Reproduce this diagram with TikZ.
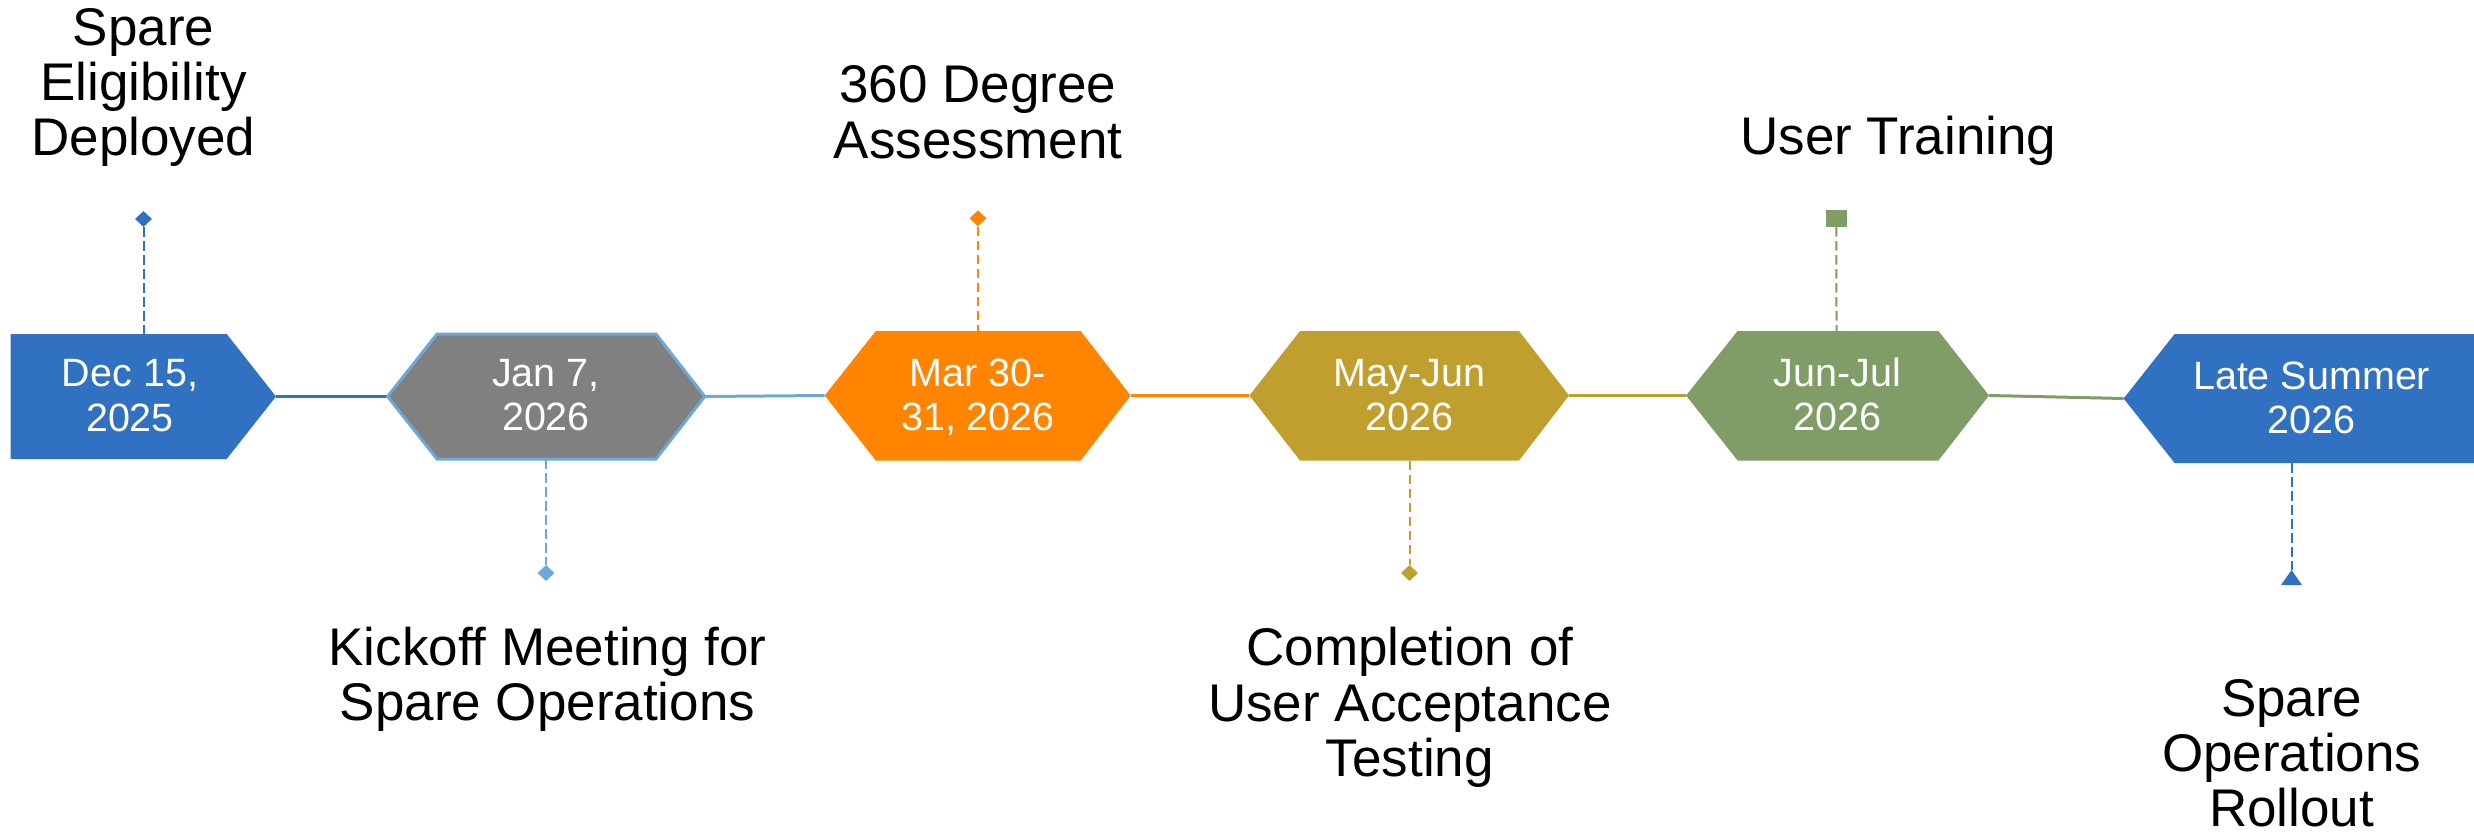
\documentclass[tikz,border=0pt]{standalone}
\usepackage{fontspec}
\setmainfont{Liberation Sans}
\usetikzlibrary{shapes.geometric}
\definecolor{cblue}{HTML}{3171C1}
\definecolor{clblue}{HTML}{6CA9D9}
\definecolor{cgray}{HTML}{808080}
\definecolor{corange}{HTML}{FF8400}
\definecolor{colive}{HTML}{C09F2E}
\definecolor{cgreen}{HTML}{809D67}
\tikzset{
  conn/.style={line width=3pt},
  dline/.style={line width=2pt, dash pattern=on 9.5pt off 4.5pt},
  lbl/.style={anchor=base, inner sep=0pt, font=\fontsize{53}{55.5}\selectfont, text=black},
  dte/.style={anchor=base, inner sep=0pt, font=\fontsize{39.5}{44.5}\selectfont, text=white},
  dmark/.style={diamond, inner sep=0pt, minimum width=17pt, minimum height=16pt},
}
\begin{document}
\begin{tikzpicture}[x=1pt, y=-1pt]
\useasboundingbox (0,0) rectangle (2474,832);
% ---- shape anchor coordinates
\coordinate (decR) at (276,396.5);
\coordinate (decT) at (143.5,334);
\coordinate (janL) at (387.6,396.5);
\coordinate (janR) at (704.7,396.5);
\coordinate (janB) at (546,459);
\coordinate (marL) at (824.7,395.5);
\coordinate (marR) at (1130.6,395.5);
\coordinate (marT) at (978,331);
\coordinate (mayL) at (1249.4,395.5);
\coordinate (mayR) at (1569,395.5);
\coordinate (mayB) at (1409.5,460.5);
\coordinate (junL) at (1686,395.5);
\coordinate (junR) at (1989,395.5);
\coordinate (junT) at (1836.5,331);
\coordinate (lateL) at (2123.6,398.5);
\coordinate (lateB) at (2291.5,463);
% ---- connectors
\draw[conn, cblue] (decR) -- (janL);
\draw[conn, clblue] (janR) -- (marL);
\draw[conn, corange] (marR) -- (mayL);
\draw[conn, colive] (mayR) -- (junL);
\draw[conn, cgreen] (junR) -- (lateL);
% ---- shapes
\fill[cblue] (10.7,334) -- (226.7,334) -- (decR) -- (226.7,459) -- (10.7,459) -- cycle;
\filldraw[fill=cgray, draw=clblue, line width=3pt, line join=miter] (janL) -- (437,334) -- (656,334) -- (janR) -- (656,459) -- (437,459) -- cycle;
\fill[corange] (marL) -- (875.8,331) -- (1080.7,331) -- (marR) -- (1080.7,460.5) -- (875.8,460.5) -- cycle;
\fill[colive] (mayL) -- (1300,331) -- (1519,331) -- (mayR) -- (1519,460.5) -- (1300,460.5) -- cycle;
\fill[cgreen] (junL) -- (1737.6,331) -- (1938.5,331) -- (junR) -- (1938.5,460.5) -- (1737.6,460.5) -- cycle;
\fill[cblue] (lateL) -- (2174.6,334) -- (2474,334) -- (2474,463) -- (2174.6,463) -- cycle;
% ---- markers
\node[dmark, fill=cblue] (m1) at (143.5,219) {};
\node[dmark, fill=clblue] (m2) at (546,573) {};
\node[dmark, fill=corange] (m3) at (978,218.3) {};
\node[dmark, fill=colive] (m4) at (1409.5,573) {};
\node[rectangle, inner sep=0pt, minimum width=21pt, minimum height=17pt, fill=cgreen] (m5) at (1836.4,218.3) {};
\coordinate (m6) at (2291.5,570);
\fill[cblue] (m6) -- (2302,585) -- (2281,585) -- cycle;
% ---- dashed leaders
\draw[dline, cblue] (m1) -- (decT);
\draw[dline, clblue] (janB) -- (m2);
\draw[dline, corange] (m3) -- (marT);
\draw[dline, colive] (mayB) -- (m4);
\draw[dline, cgreen] (m5) -- (junT);
\draw[dline, cblue] (lateB) -- (m6);
% ---- date texts
\node[dte] (d1a) at (130,386.7) {Dec 15,};
\node[dte] (d1b) at (130,431) {2025};
\node[dte] (d2a) at (546,386.7) {Jan 7,};
\node[dte] (d2b) at (546,430) {2026};
\node[dte] (d3a) at (978,386.7) {Mar 30-};
\node[dte] (d3b) at (978,430) {31, 2026};
\node[dte] (d4a) at (1409.5,386.7) {May-Jun};
\node[dte] (d4b) at (1409.5,430) {2026};
\node[dte] (d5a) at (1837.5,386.7) {Jun-Jul};
\node[dte] (d5b) at (1837.5,430) {2026};
\node[dte] (d6a) at (2311.6,389) {Late Summer};
\node[dte] (d6b) at (2311.6,433) {2026};
% ---- labels
\node[lbl] (l1a) at (143.5,46) {Spare};
\node[lbl] (l1b) at (143.5,101) {Eligibility};
\node[lbl] (l1c) at (143.5,156) {Deployed};
\node[lbl] (l2a) at (547.5,665) {Kickoff Meeting for};
\node[lbl] (l2b) at (547.5,720) {Spare Operations};
\node[lbl] (l3a) at (978,102.7) {360 Degree};
\node[lbl] (l3b) at (978,158.3) {Assessment};
\node[lbl] (l4a) at (1409.9,665) {Completion of};
\node[lbl] (l4b) at (1409.9,721) {User Acceptance};
\node[lbl] (l4c) at (1409.9,776) {Testing};
\node[lbl] (l5a) at (1898.3,154) {User Training};
\node[lbl] (l6a) at (2291.7,716) {Spare};
\node[lbl] (l6b) at (2291.7,771.7) {Operations};
\node[lbl] (l6c) at (2291.7,826) {Rollout};
\end{tikzpicture}
\end{document}
